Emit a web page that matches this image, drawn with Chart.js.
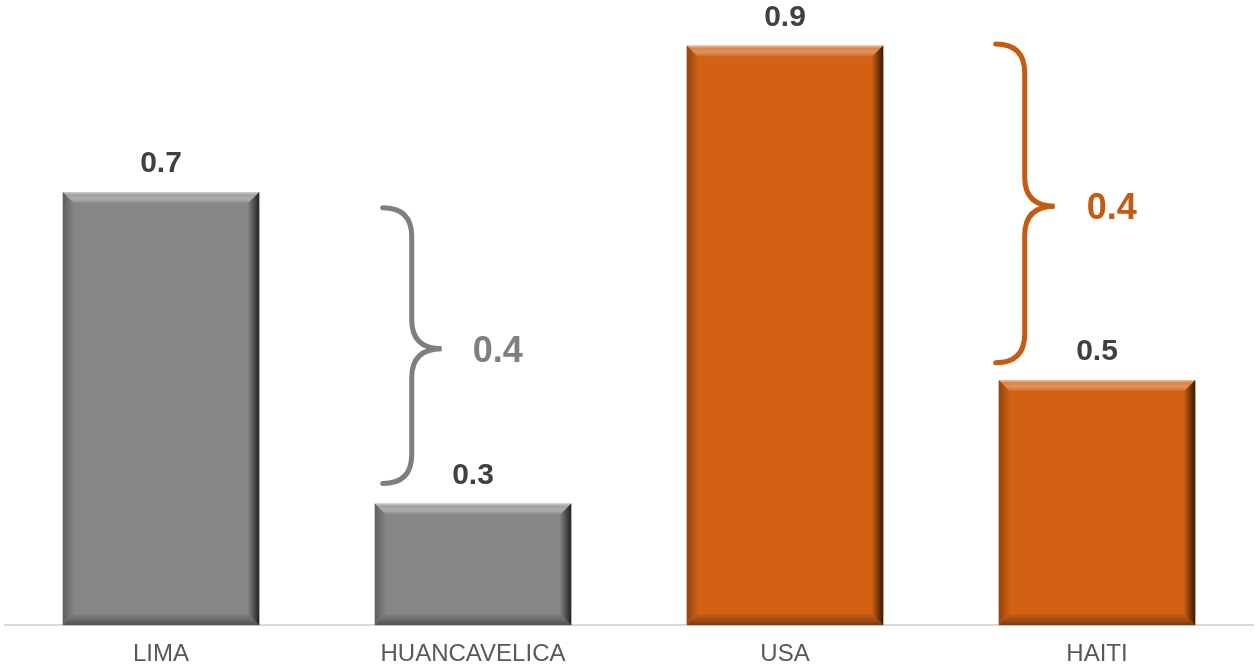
<!DOCTYPE html>
<html>
<head>
<meta charset="utf-8">
<script src="https://cdn.jsdelivr.net/npm/chart.js@4/dist/chart.umd.min.js"></script>
<style>
  html, body { margin: 0; padding: 0; background: #fff; }
  #wrap { width: 1255px; height: 671px; }
</style>
</head>
<body>
<div id="wrap"><canvas id="c"></canvas></div>
<script>
const categories = ['LIMA', 'HUANCAVELICA', 'USA', 'HAITI'];
const values = [0.723, 0.347, 0.90, 0.496];
const barColors = ['#868686', '#868686', '#d26114', '#d26114'];

// brackets between pairs of bars (drawn at the second bar of each pair)
const bracketAt = [1, 3];
const bracketPair = [[0, 1], [2, 3]];
const bracketTop = [0.704, 0.902];
const bracketBottom = [0.371, 0.517];
const bracketColors = ['#7f7f7f', '#c55a11'];

// bevelled bar look
const bevelPlugin = {
    id: 'bevel',
    afterDatasetsDraw(chart) {
        const ctx = chart.ctx;
        const meta = chart.getDatasetMeta(0);
        const d = 11;
        meta.data.forEach(bar => {
            const p = bar.getProps(['x', 'y', 'base', 'width'], true);
            const l = p.x - p.width / 2, r = p.x + p.width / 2, t = p.y, b = p.base;
            const quad = (pts, grad) => {
                ctx.beginPath();
                ctx.moveTo(pts[0][0], pts[0][1]);
                for (let i = 1; i < pts.length; i++) ctx.lineTo(pts[i][0], pts[i][1]);
                ctx.closePath();
                ctx.fillStyle = grad;
                ctx.fill();
            };
            ctx.save();
            let g = ctx.createLinearGradient(0, t, 0, t + d);
            g.addColorStop(0, 'rgba(255,255,255,0.6)');
            g.addColorStop(0.25, 'rgba(255,255,255,0.22)');
            g.addColorStop(0.6, 'rgba(255,255,255,0.32)');
            g.addColorStop(1, 'rgba(255,255,255,0.06)');
            quad([[l, t], [r, t], [r - d, t + d], [l + d, t + d]], g);
            g = ctx.createLinearGradient(l, 0, l + d, 0);
            g.addColorStop(0, 'rgba(0,0,0,0.3)');
            g.addColorStop(1, 'rgba(0,0,0,0.02)');
            quad([[l, t], [l + d, t + d], [l + d, b - d], [l, b]], g);
            g = ctx.createLinearGradient(0, b - d, 0, b);
            g.addColorStop(0, 'rgba(0,0,0,0.05)');
            g.addColorStop(1, 'rgba(0,0,0,0.4)');
            quad([[l, b], [l + d, b - d], [r - d, b - d], [r, b]], g);
            g = ctx.createLinearGradient(r - d, 0, r, 0);
            g.addColorStop(0, 'rgba(0,0,0,0.05)');
            g.addColorStop(1, 'rgba(0,0,0,0.75)');
            quad([[r, t], [r, b], [r - d, b - d], [r - d, t + d]], g);
            ctx.restore();
        });
    }
};

const labelPlugin = {
    id: 'valueLabels',
    afterDatasetsDraw(chart) {
        const ctx = chart.ctx;
        const meta = chart.getDatasetMeta(0);
        ctx.save();
        ctx.font = 'bold 30px "Liberation Sans", Arial, sans-serif';
        ctx.fillStyle = '#404040';
        ctx.textAlign = 'center';
        ctx.textBaseline = 'middle';
        meta.data.forEach((bar, i) => {
            ctx.fillText(values[i].toFixed(1), bar.x, bar.y - 28);
        });
        ctx.restore();
    }
};

const bracketPlugin = {
    id: 'brackets',
    afterDraw(chart) {
        const ctx = chart.ctx;
        const y = chart.scales.y;
        const meta = chart.getDatasetMeta(0);
        const offs = [[8, 37, 67, 123], [-3, 26, 56, 113]];
        bracketAt.forEach((idx, k) => {
            const bar = meta.data[idx];
            const left = bar.x - bar.width / 2;
            const x0 = left + offs[k][0], x1 = left + offs[k][1], x2 = left + offs[k][2];
            const t = y.getPixelForValue(bracketTop[k]);
            const b = y.getPixelForValue(bracketBottom[k]);
            const m = (t + b) / 2 + 3;
            const rr = x1 - x0;
            ctx.save();
            ctx.strokeStyle = bracketColors[k];
            ctx.lineWidth = 5;
            ctx.lineCap = 'round';
            ctx.beginPath();
            ctx.moveTo(x0, t);
            ctx.quadraticCurveTo(x1, t, x1, t + rr);
            ctx.lineTo(x1, m - rr);
            ctx.quadraticCurveTo(x1, m, x2, m);
            ctx.quadraticCurveTo(x1, m, x1, m + rr);
            ctx.lineTo(x1, b - rr);
            ctx.quadraticCurveTo(x1, b, x0, b);
            ctx.stroke();
            const pr = bracketPair[k];
            const diff = Math.abs(values[pr[0]] - values[pr[1]]);
            ctx.font = 'bold 36px "Liberation Sans", Arial, sans-serif';
            ctx.fillStyle = bracketColors[k];
            ctx.textAlign = 'center';
            ctx.textBaseline = 'middle';
            ctx.fillText(diff.toFixed(1), left + offs[k][3], m + 3);
            ctx.restore();
        });
    }
};

new Chart(document.getElementById('c'), {
    type: 'bar',
    data: {
        labels: categories,
        datasets: [{
            data: values,
            base: 0.2,
            backgroundColor: barColors,
            borderWidth: 0,
            categoryPercentage: 1,
            barPercentage: 0.63
        }]
    },
    options: {
        responsive: true,
        maintainAspectRatio: false,
        animation: false,
        layout: { padding: { left: 5, right: 2, top: 0, bottom: -13 } },
        plugins: { legend: { display: false }, tooltip: { enabled: false } },
        scales: {
            x: {
                grid: { display: false, drawTicks: false },
                border: { display: true, color: '#d9d9d9', width: 2 },
                ticks: {
                    padding: 15,
                    color: '#595959',
                    font: { family: '"Liberation Sans", Arial, sans-serif', size: 24 }
                }
            },
            y: { display: false, min: 0.2, max: 0.955 }
        }
    },
    plugins: [bevelPlugin, labelPlugin, bracketPlugin]
});
</script>
</body>
</html>
